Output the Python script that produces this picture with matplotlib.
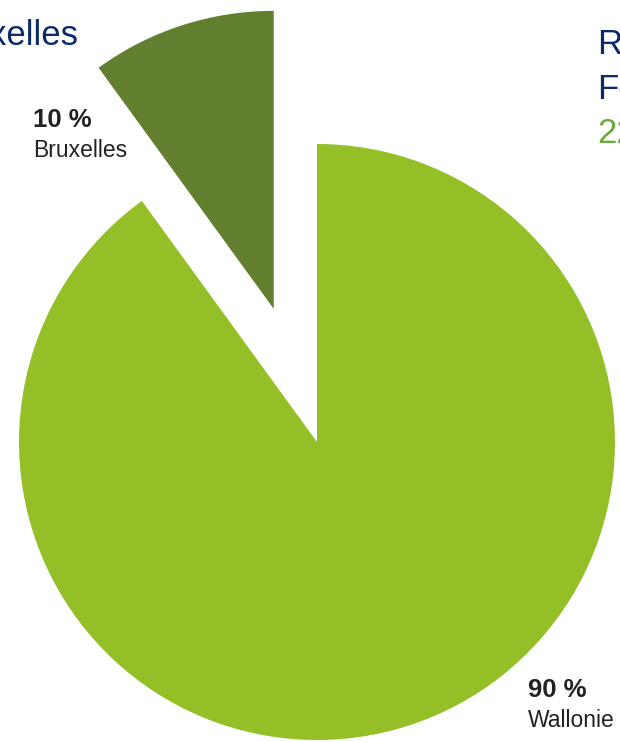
import matplotlib
matplotlib.use('Agg')
import matplotlib.pyplot as plt

# data
regions = ['Wallonie', 'Bruxelles']
shares = [90, 10]
pct_labels = ['90 %', '10 %']
colors = ['#95bf27', '#627e2f']

navy = '#0c2a69'
plt.rcParams['font.family'] = ['Liberation Sans', 'DejaVu Sans']

fig = plt.figure(figsize=(6.2, 7.42), dpi=100)
ax = fig.add_axes([0, 0, 1, 1])

H = 742
R = 298
# explode is in data units here since radius != 1
ax.pie(shares, colors=colors, startangle=90, counterclock=False,
       explode=[0, 140], radius=R, center=(317, H - 442),
       wedgeprops=dict(linewidth=0))
ax.set_xlim(0, 620)
ax.set_ylim(0, H)
ax.set_aspect('auto')
ax.axis('off')

# slice labels
label_pos = {'Wallonie': (528, 697), 'Bruxelles': (33, 127)}
for reg, pct in zip(regions, pct_labels):
    x, y = label_pos[reg]
    ax.text(x, H - y, pct, fontsize=18.5, fontweight='bold', color='#222222',
            va='baseline', ha='left')
    ax.text(x, H - y - 30, reg, fontsize=16.5, color='#222222',
            va='baseline', ha='left')

# titles cut off by the crop
ax.text(78, H - 45, 'Bruxelles', fontsize=25, color=navy, ha='right', va='baseline')
ax.text(597, H - 54, 'Répartition', fontsize=25, fontweight='medium', color=navy,
        ha='left', va='baseline')
ax.text(597, H - 99, 'Fédération', fontsize=25, fontweight='medium', color=navy,
        ha='left', va='baseline')
ax.text(597, H - 143, '22', fontsize=25, fontweight='medium', color='#6aab3a',
        ha='left', va='baseline')

fig.savefig('out.png', dpi=100)
